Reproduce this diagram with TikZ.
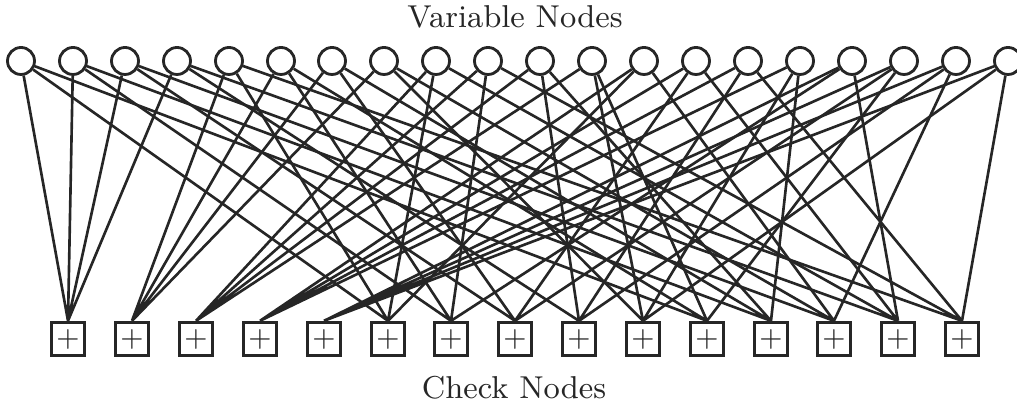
\documentclass[tikz,border=0pt]{standalone}
\usepackage{amsmath}
\usepackage{tikz}

\tikzset{
  varnode/.style={circle, draw, line width=0.8pt, minimum size=2.7mm, inner sep=0pt},
  checknode/.style={rectangle, draw, line width=0.8pt, minimum size=3.35mm, inner sep=0pt, font=\footnotesize},
  tanner/.style={line width=0.75pt},
  caption/.style={font=\fontsize{9}{11}\selectfont}
}

\begin{document}
\begin{tikzpicture}[x=0.1mm, y=-0.1mm, black!85]
\useasboundingbox (0,0) rectangle (1017,408);

%labels above and below
\node[caption] (vlabel) at (515,17) {Variable Nodes};
\node[caption] (clabel) at (514,388) {Check Nodes};


%variable nodes (top row)
\node[varnode] (v1) at (21,61) {};
\node[varnode] (v2) at (73,61) {};
\node[varnode] (v3) at (125,61) {};
\node[varnode] (v4) at (177,61) {};
\node[varnode] (v5) at (229,61) {};
\node[varnode] (v6) at (281,61) {};
\node[varnode] (v7) at (332,61) {};
\node[varnode] (v8) at (384,61) {};
\node[varnode] (v9) at (436,61) {};
\node[varnode] (v10) at (488,61) {};
\node[varnode] (v11) at (540,61) {};
\node[varnode] (v12) at (592,61) {};
\node[varnode] (v13) at (644,61) {};
\node[varnode] (v14) at (696,61) {};
\node[varnode] (v15) at (748,61) {};
\node[varnode] (v16) at (800,61) {};
\node[varnode] (v17) at (852,61) {};
\node[varnode] (v18) at (904,61) {};
\node[varnode] (v19) at (956,61) {};
\node[varnode] (v20) at (1008,61) {};


%check nodes (bottom row)
\node[checknode] (c1) at (68,339) {$+$};
\node[checknode] (c2) at (132,339) {$+$};
\node[checknode] (c3) at (196,339) {$+$};
\node[checknode] (c4) at (260,339) {$+$};
\node[checknode] (c5) at (324,339) {$+$};
\node[checknode] (c6) at (388,339) {$+$};
\node[checknode] (c7) at (451,339) {$+$};
\node[checknode] (c8) at (515,339) {$+$};
\node[checknode] (c9) at (579,339) {$+$};
\node[checknode] (c10) at (643,339) {$+$};
\node[checknode] (c11) at (707,339) {$+$};
\node[checknode] (c12) at (771,339) {$+$};
\node[checknode] (c13) at (834,339) {$+$};
\node[checknode] (c14) at (898,339) {$+$};
\node[checknode] (c15) at (962,339) {$+$};


%first band: neighbouring variables
\draw[tanner] (v1)--(c1.north) (v2)--(c1.north) (v3)--(c1.north) (v4)--(c1.north);
\draw[tanner] (v5)--(c2.north) (v6)--(c2.north) (v7)--(c2.north) (v8)--(c2.north);
\draw[tanner] (v9)--(c3.north) (v10)--(c3.north) (v11)--(c3.north) (v12)--(c3.north);
\draw[tanner] (v13)--(c4.north) (v14)--(c4.north) (v15)--(c4.north) (v16)--(c4.north);
\draw[tanner] (v17)--(c5.north) (v18)--(c5.north) (v19)--(c5.north) (v20)--(c5.north);

%second band
\draw[tanner] (v1)--(c6.north) (v5)--(c6.north) (v9)--(c6.north) (v13)--(c6.north);
\draw[tanner] (v2)--(c7.north) (v6)--(c7.north) (v10)--(c7.north) (v17)--(c7.north);
\draw[tanner] (v3)--(c8.north) (v7)--(c8.north) (v14)--(c8.north) (v18)--(c8.north);
\draw[tanner] (v4)--(c9.north) (v11)--(c9.north) (v15)--(c9.north) (v19)--(c9.north);
\draw[tanner] (v8)--(c10.north) (v12)--(c10.north) (v16)--(c10.north) (v20)--(c10.north);

%third band
\draw[tanner] (v1)--(c11.north) (v6)--(c11.north) (v12)--(c11.north) (v18)--(c11.north);
\draw[tanner] (v2)--(c12.north) (v7)--(c12.north) (v11)--(c12.north) (v16)--(c12.north);
\draw[tanner] (v3)--(c13.north) (v8)--(c13.north) (v13)--(c13.north) (v19)--(c13.north);
\draw[tanner] (v4)--(c14.north) (v9)--(c14.north) (v14)--(c14.north) (v17)--(c14.north);
\draw[tanner] (v5)--(c15.north) (v10)--(c15.north) (v15)--(c15.north) (v20)--(c15.north);

\end{tikzpicture}
\end{document}
